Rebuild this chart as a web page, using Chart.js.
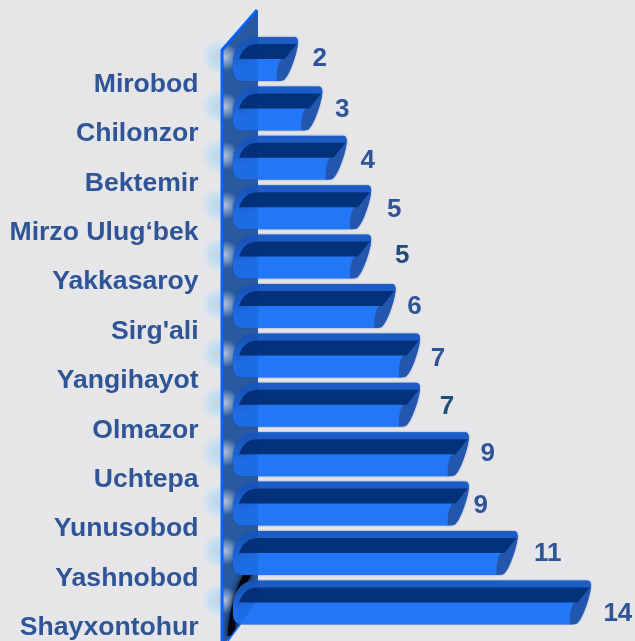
<!DOCTYPE html>
<html><head><meta charset="utf-8">
<script src="https://cdn.jsdelivr.net/npm/chart.js@4"></script>
<style>html,body{margin:0;padding:0;background:#e6e6e9;overflow:hidden}#w{position:relative;width:635px;height:641px}</style>
</head><body><div id="w"><canvas id="c" width="635" height="641"></canvas></div>
<script>
const categories = ["Mirobod","Chilonzor","Bektemir","Mirzo Ulug‘bek","Yakkasaroy","Sirg'ali","Yangihayot","Olmazor","Uchtepa","Yunusobod","Yashnobod","Shayxontohur"];
const seriesValues = [2,3,4,5,5,6,7,7,9,9,11,14];
const labelNudgeX = [22,20,21,23,31,19,18,27,19,12,30,27];
const labelNudgeY = [2,3,5,5,1,3,5,4,2,4,3,13];
const labelColors = ["#2f5597","#2f5597","#2f5597","#2f5597","#1f4e79","#2f5597","#2f5597","#1f4e79","#2f5597","#2f5597","#2f5597","#2f5597"];

// cylinder-like bar look, drawn from the element geometry the library computes
Chart.BarElement.prototype.draw = function(ctx){
  const X=this.x, L=this.base, T=this.y-this.height/2+2, B=T+this.height;
  ctx.save();
  ctx.beginPath();
  ctx.moveTo(L+24,T);
  ctx.lineTo(X-4,T);
  ctx.quadraticCurveTo(X,T,X,T+5);
  ctx.bezierCurveTo(X,T+14,X-8,B-6,X-14,B-1);
  ctx.quadraticCurveTo(X-16,B,X-20,B);
  ctx.lineTo(L+10,B);
  ctx.quadraticCurveTo(L,B,L,B-10);
  ctx.lineTo(L,T+27);
  ctx.bezierCurveTo(L,T+10,L+10,T,L+24,T);
  ctx.closePath();
  ctx.shadowColor='rgba(20,50,110,.55)'; ctx.shadowBlur=2;
  ctx.fillStyle='#2277f7'; ctx.fill();
  ctx.shadowBlur=0; ctx.shadowColor='transparent';
  ctx.clip();
  // top strip
  ctx.fillStyle='#1c5cc4';
  ctx.fillRect(L,T,X-L,7.5);
  // shaded left shoulder, fading into the front face
  const sg=ctx.createLinearGradient(0,T+7,0,T+30);
  sg.addColorStop(0,'#1c5cc4');sg.addColorStop(1,'#2277f7');
  ctx.fillStyle=sg;
  ctx.beginPath();
  ctx.moveTo(L,T+7);ctx.lineTo(L+24,T+7);ctx.lineTo(L+24,T+21);ctx.lineTo(L+7,T+30);ctx.lineTo(L,T+30);ctx.closePath();ctx.fill();
  // end cap
  ctx.fillStyle='#2357ad';
  ctx.beginPath();
  ctx.moveTo(X+1,T);ctx.lineTo(X+1,B);ctx.lineTo(X-21,B);
  ctx.bezierCurveTo(X-22,B-8,X-19,T+17,X-13,T+22);
  ctx.lineTo(X-1,T+7);ctx.closePath();ctx.fill();
  // dark band
  ctx.fillStyle='#03317a';
  ctx.beginPath();
  ctx.moveTo(L+6,T+22);
  ctx.bezierCurveTo(L+9,T+13,L+14,T+7,L+26,T+7);
  ctx.lineTo(X-1,T+7);ctx.lineTo(X-13,T+22);ctx.closePath();ctx.fill();
  ctx.restore();
};

const wallLeft=221, wallRight=258, wallTopY=10, wallShoulderY=50, wallBottomY=641;
function wallPath(ctx){
  ctx.beginPath();
  ctx.moveTo(wallLeft,wallShoulderY);ctx.lineTo(wallRight,wallTopY);
  ctx.lineTo(wallRight,600);ctx.lineTo(227,wallBottomY);ctx.lineTo(wallLeft,wallBottomY);ctx.closePath();
}
const decor={
  id:'decor',
  beforeDraw(chart){
    const ctx=chart.ctx, s=chart.scales.y;
    categories.forEach((c,i)=>{
      const y=s.getPixelForTick(i);
      const g=ctx.createRadialGradient(219,y,2,219,y,18);
      g.addColorStop(0,'rgba(178,214,245,.95)');g.addColorStop(.6,'rgba(190,220,245,.6)');g.addColorStop(1,'rgba(200,225,245,0)');
      ctx.fillStyle=g;ctx.fillRect(195,y-20,30,40);
    });
  },
  beforeDatasetsDraw(chart){
    const ctx=chart.ctx, s=chart.scales.y;
    ctx.save();
    wallPath(ctx);ctx.fillStyle='#2f62a8';ctx.fill();
    ctx.clip();
    categories.forEach((c,i)=>{
      const y=s.getPixelForTick(i);
      const g=ctx.createRadialGradient(225,y,1,225,y,14);
      g.addColorStop(0,'rgba(222,230,240,.85)');g.addColorStop(.5,'rgba(205,220,238,.5)');g.addColorStop(1,'rgba(200,220,240,0)');
      ctx.fillStyle=g;ctx.fillRect(210,y-16,32,32);
    });
    // dark smear beside the lowest bar
    ctx.strokeStyle='#000';ctx.lineWidth=7;ctx.shadowColor='#000';ctx.shadowBlur=6;
    ctx.beginPath();ctx.moveTo(249,572);ctx.quadraticCurveTo(234,596,231,636);ctx.stroke();
    ctx.restore();
    // bright edge
    ctx.save();
    ctx.strokeStyle='#0a66ff';ctx.lineWidth=3;
    ctx.beginPath();ctx.moveTo(wallLeft+1,wallBottomY);ctx.lineTo(wallLeft+1,wallShoulderY);ctx.lineTo(wallRight-1,wallTopY);ctx.stroke();
    ctx.lineWidth=1.5;ctx.beginPath();ctx.moveTo(wallRight,600);ctx.lineTo(228,wallBottomY);ctx.stroke();
    ctx.restore();
  },
  afterDatasetsDraw(chart){
    const ctx=chart.ctx, m=chart.getDatasetMeta(0);
    ctx.save();
    wallPath(ctx);ctx.clip();
    ctx.fillStyle='rgba(10,40,110,.14)';
    ctx.fillRect(wallLeft+2,0,wallRight-wallLeft,641);
    ctx.restore();
    ctx.save();
    ctx.font='bold 26px "Liberation Sans",Arial,sans-serif';
    ctx.textAlign='center';ctx.textBaseline='middle';
    m.data.forEach((el,i)=>{
      ctx.fillStyle=labelColors[i];
      ctx.fillText(String(seriesValues[i]),el.x+labelNudgeX[i],el.y+labelNudgeY[i]);
    });
    ctx.restore();
  }
};

new Chart(document.getElementById('c'),{
  type:'bar',
  data:{labels:categories,datasets:[{data:seriesValues,base:-0.655,backgroundColor:'#2277f7',barThickness:44}]},
  options:{
    indexAxis:'y',responsive:false,animation:false,
    layout:{padding:{left:0,right:7.5,top:32.3,bottom:15.9}},
    plugins:{legend:{display:false},tooltip:{enabled:false}},
    scales:{
      x:{display:false,min:-1,max:15.5},
      y:{
        afterFit(s){s.width=224.6;s.paddingTop=0;s.paddingBottom=0;},
        border:{display:false},
        grid:{offset:false,drawOnChartArea:false,drawTicks:true,tickLength:12,tickWidth:2.5,tickColor:'#d4d4d4'},
        ticks:{padding:14,labelOffset:27.5,color:'#2f5597',autoSkip:false,font:{family:'"Liberation Sans",Arial,sans-serif',size:26.6,weight:'bold'}}
      }
    }
  },
  plugins:[decor]
});
</script></body></html>
